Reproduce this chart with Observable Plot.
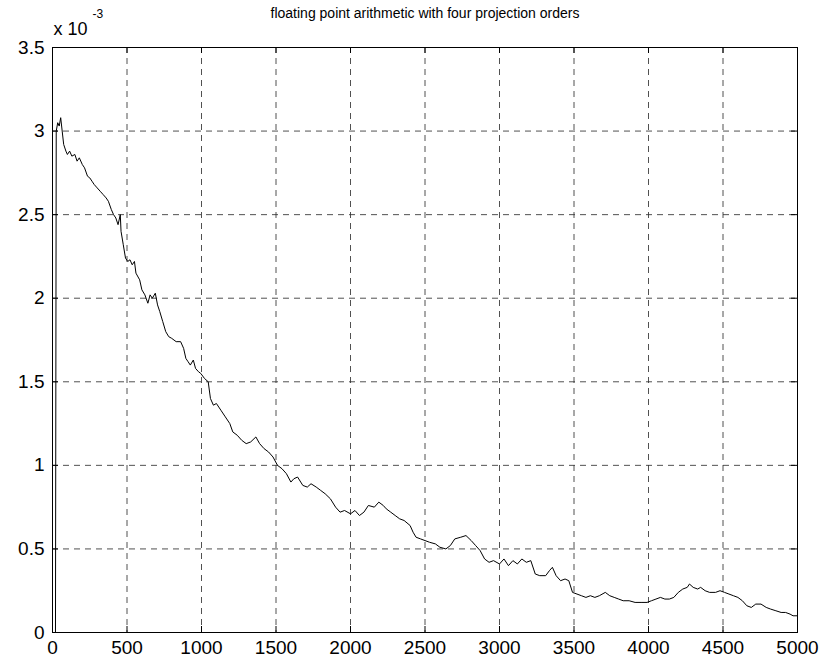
<!DOCTYPE html>
<html>
<head>
<meta charset="utf-8">
<script src="https://cdn.jsdelivr.net/npm/d3@7"></script>
<script src="https://cdn.jsdelivr.net/npm/@observablehq/plot@0.6"></script>
<style>
  html, body { margin: 0; padding: 0; background: #fff; }
  #chart svg { display: block; }
</style>
</head>
<body>
<div id="chart"></div>
<script>
// Iteration number
const iter = [0, 20, 25, 35, 45, 55, 65, 75, 90, 100, 115, 130, 150, 165, 180, 200, 215, 235, 250, 265, 280, 300, 320, 340, 360, 375, 395, 410, 425, 440, 455, 460, 475, 490, 505, 520, 535, 550, 560, 585, 600, 620, 640, 655, 670, 690, 705, 720, 740, 760, 780, 800, 830, 860, 880, 895, 910, 925, 945, 960, 980, 995, 1020, 1045, 1060, 1080, 1100, 1130, 1160, 1190, 1210, 1240, 1270, 1300, 1330, 1365, 1390, 1420, 1450, 1480, 1510, 1540, 1570, 1600, 1620, 1645, 1680, 1710, 1735, 1770, 1800, 1830, 1865, 1900, 1930, 1960, 2000, 2030, 2060, 2090, 2120, 2160, 2190, 2220, 2240, 2270, 2300, 2330, 2360, 2400, 2420, 2440, 2470, 2500, 2530, 2570, 2600, 2640, 2670, 2700, 2740, 2775, 2810, 2840, 2870, 2900, 2930, 2960, 3000, 3030, 3060, 3090, 3120, 3150, 3180, 3210, 3240, 3270, 3310, 3335, 3355, 3380, 3410, 3440, 3465, 3490, 3520, 3550, 3580, 3610, 3640, 3670, 3710, 3740, 3770, 3800, 3830, 3870, 3910, 3950, 3990, 4020, 4050, 4080, 4110, 4140, 4170, 4200, 4230, 4260, 4275, 4300, 4330, 4350, 4380, 4410, 4450, 4480, 4510, 4540, 4570, 4600, 4630, 4660, 4690, 4720, 4755, 4790, 4820, 4855, 4890, 4920, 4950, 4970, 5000];

// Error, in units of 1e-3
const err = [0, 0, 3.0, 3.05, 3.03, 3.08, 3.0, 2.92, 2.88, 2.86, 2.88, 2.85, 2.86, 2.82, 2.84, 2.80, 2.78, 2.73, 2.72, 2.70, 2.68, 2.66, 2.64, 2.62, 2.60, 2.58, 2.53, 2.50, 2.48, 2.44, 2.50, 2.40, 2.32, 2.24, 2.22, 2.23, 2.20, 2.22, 2.15, 2.11, 2.05, 2.02, 1.97, 2.02, 2.00, 2.03, 1.96, 1.92, 1.86, 1.80, 1.77, 1.76, 1.74, 1.74, 1.70, 1.64, 1.62, 1.60, 1.63, 1.58, 1.56, 1.55, 1.52, 1.50, 1.40, 1.36, 1.37, 1.33, 1.29, 1.25, 1.20, 1.18, 1.15, 1.13, 1.14, 1.17, 1.13, 1.10, 1.08, 1.05, 1.00, 0.98, 0.95, 0.90, 0.92, 0.93, 0.88, 0.87, 0.89, 0.87, 0.85, 0.83, 0.80, 0.75, 0.72, 0.73, 0.71, 0.73, 0.70, 0.72, 0.76, 0.75, 0.78, 0.76, 0.74, 0.72, 0.70, 0.68, 0.67, 0.64, 0.60, 0.57, 0.56, 0.55, 0.54, 0.53, 0.51, 0.50, 0.52, 0.56, 0.57, 0.58, 0.55, 0.52, 0.49, 0.44, 0.42, 0.43, 0.41, 0.44, 0.40, 0.43, 0.41, 0.44, 0.42, 0.43, 0.35, 0.34, 0.34, 0.37, 0.39, 0.34, 0.31, 0.32, 0.31, 0.24, 0.23, 0.22, 0.21, 0.22, 0.21, 0.22, 0.24, 0.22, 0.21, 0.20, 0.19, 0.19, 0.18, 0.18, 0.18, 0.19, 0.20, 0.21, 0.20, 0.20, 0.21, 0.24, 0.26, 0.27, 0.29, 0.27, 0.26, 0.27, 0.25, 0.24, 0.24, 0.25, 0.24, 0.23, 0.22, 0.21, 0.19, 0.16, 0.15, 0.17, 0.17, 0.15, 0.14, 0.13, 0.12, 0.12, 0.11, 0.10, 0.10];

const xTicks = [0, 500, 1000, 1500, 2000, 2500, 3000, 3500, 4000, 4500, 5000];
const yTicks = [0, 0.5, 1, 1.5, 2, 2.5, 3, 3.5];

const title = "floating point arithmetic with four projection orders";

const data = iter.map((x, i) => ({x, y: err[i]}));

const font = "'Liberation Sans', Arial, sans-serif";
const gridStyle = {stroke: "#333", strokeOpacity: 0.85, strokeWidth: 1, strokeDasharray: "6,5"};

// short inward tick length, in data units of each axis
const tx = 5000 * 6 / 745;
const ty = 3.5 * 6 / 585;

const chart = Plot.plot({
  width: 824,
  height: 666,
  marginLeft: 52,
  marginRight: 27,
  marginTop: 47,
  marginBottom: 34,
  style: {fontFamily: font, fontSize: "19px", color: "#000", background: "#fff"},
  x: {domain: [0, 5000], ticks: xTicks},
  y: {domain: [0, 3.5], ticks: yTicks},
  marks: [
    Plot.gridX(xTicks.slice(1, -1), gridStyle),
    Plot.gridY(yTicks.slice(1, -1), gridStyle),
    Plot.axisX(xTicks, {anchor: "bottom", tickSize: 0, tickPadding: 8, label: null, fontSize: 19, tickFormat: d => String(d)}),
    Plot.axisY(yTicks, {anchor: "left", tickSize: 0, tickPadding: 8, label: null, fontSize: 19, tickFormat: d => String(d)}),
    // inward tick marks on all four sides
    Plot.ruleX(xTicks, {x: d => d, y1: 0, y2: ty, stroke: "#000"}),
    Plot.ruleX(xTicks, {x: d => d, y1: 3.5, y2: 3.5 - ty, stroke: "#000"}),
    Plot.ruleY(yTicks, {y: d => d, x1: 0, x2: tx, stroke: "#000"}),
    Plot.ruleY(yTicks, {y: d => d, x1: 5000, x2: 5000 - tx, stroke: "#000"}),
    Plot.line(data, {x: "x", y: "y", stroke: "#000", strokeWidth: 1, curve: "linear"}),
    Plot.frame({stroke: "#000", strokeWidth: 1}),
    Plot.text([title], {frameAnchor: "top", dy: -34, fontSize: 14, fill: "#000", lineAnchor: "middle"}),
    Plot.text(["x 10"], {frameAnchor: "top-left", dx: 1, dy: -18, fontSize: 18, textAnchor: "start", lineAnchor: "middle", fill: "#000"}),
    Plot.text(["-3"], {frameAnchor: "top-left", dx: 40, dy: -33, fontSize: 12, textAnchor: "start", lineAnchor: "middle", fill: "#000"})
  ]
});

document.getElementById("chart").appendChild(chart);
</script>
</body>
</html>
